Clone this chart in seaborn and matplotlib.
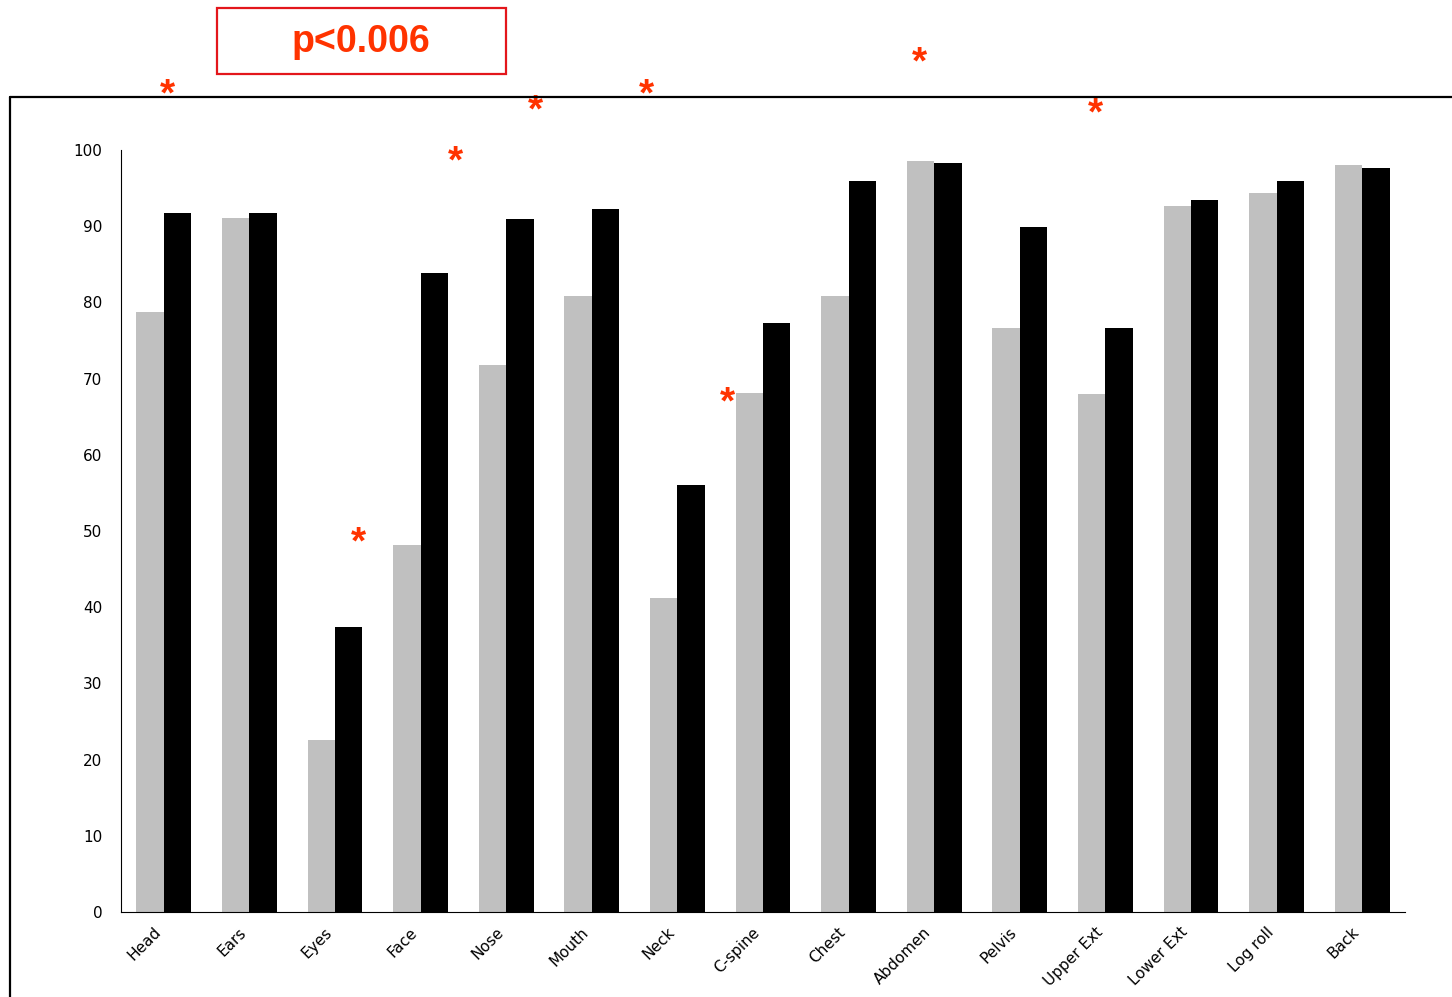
import numpy as np
import pandas as pd
import matplotlib
matplotlib.use("Agg")
import matplotlib.pyplot as plt
from matplotlib.lines import Line2D
from matplotlib.patches import Rectangle
import matplotlib.transforms as mtransforms
import seaborn as sns

sns.set_style("white")
plt.rcParams['font.family'] = ['DejaVu Sans']
plt.rcParams['text.color'] = 'black'
plt.rcParams['xtick.color'] = 'black'
plt.rcParams['ytick.color'] = 'black'

categories = ["Head", "Ears", "Eyes", "Face", "Nose", "Mouth", "Neck", "C-spine",
              "Chest", "Abdomen", "Pelvis", "Upper Ext", "Lower Ext", "Log roll", "Back"]
series_a = [78.7, 91.1, 22.6, 48.2, 71.8, 80.9, 41.2, 68.1, 80.8, 98.5, 76.6, 68.0, 92.7, 94.3, 98.0]
series_b = [91.7, 91.7, 37.4, 83.9, 91.0, 92.3, 56.1, 77.3, 95.9, 98.3, 89.9, 76.6, 93.5, 95.9, 97.7]
series_names = ["Group 1", "Group 2"]
y_ticks = list(range(0, 101, 10))
p_label = "p<0.006"
# significance markers (x in category units, y in % units)
star_x = [0.04, 2.28, 3.41, 4.34, 5.64, 6.58, 8.83, 10.88]
star_y = [107.9, 49.1, 99.1, 105.9, 107.9, 67.5, 112.2, 105.5]

df = pd.DataFrame({
    "region": categories * 2,
    "pct": series_a + series_b,
    "group": [series_names[0]] * len(categories) + [series_names[1]] * len(categories),
})

W, H = 1452, 997
fig = plt.figure(figsize=(W / 100, H / 100), dpi=100)
ax = fig.add_axes([121 / W, 1 - 912 / H, (1405 - 121) / W, (912 - 150) / H])

sns.barplot(data=df, x="region", y="pct", hue="group", order=categories,
            palette=["#C0C0C0", "#000000"], saturation=1, width=0.64, gap=0,
            legend=False, ax=ax, edgecolor="none", linewidth=0)

ax.set_xlim(-0.5, len(categories) - 0.5)
ax.set_ylim(0, 100)
ax.set_yticks(y_ticks)
ax.set_yticklabels([str(t) for t in y_ticks], fontsize=11)
ax.set_xticks(range(len(categories)))
ax.set_xticklabels(categories, rotation=45, ha="right", fontsize=11)
ax.set_xticks(np.arange(-0.5, len(categories), 1), minor=True)
ax.tick_params(axis="x", which="major", length=0, pad=9)
ax.tick_params(axis="x", which="minor", length=4.5, width=0.8, direction="out", color="black")
ax.tick_params(axis="y", length=4.5, width=0.8, direction="out", color="black", pad=9)
ax.set_xlabel("")
ax.set_ylabel("")
for s in ["top", "right"]:
    ax.spines[s].set_visible(False)
for s in ["left", "bottom"]:
    ax.spines[s].set_color("black")
    ax.spines[s].set_linewidth(0.8)

star_shift = mtransforms.offset_copy(ax.transData, fig=fig, x=0, y=-6, units="dots")
for x, y in zip(star_x, star_y):
    ax.text(x, y, "*", color="#FF3300", fontsize=28, fontweight="bold",
            ha="center", va="center", clip_on=False, family="Liberation Sans",
            transform=star_shift)

# outer frame lines
fig.add_artist(Line2D([10 / W, 1.0], [1 - 97 / H, 1 - 97 / H], transform=fig.transFigure,
                      color="black", lw=1.6))
fig.add_artist(Line2D([10 / W, 10 / W], [0.0, 1 - 97 / H], transform=fig.transFigure,
                      color="black", lw=1.6))

# p-value box
fig.add_artist(Rectangle((217 / W, 1 - 74 / H), (506 - 217) / W, (74 - 8) / H,
                         transform=fig.transFigure, fill=False, edgecolor="#E3161B", lw=1.6))
fig.text(361 / W, 1 - 42 / H, p_label, color="#FF3300", fontsize=27, fontweight="bold",
         ha="center", va="center", family="Liberation Sans")

fig.savefig("out.png", dpi=100)
